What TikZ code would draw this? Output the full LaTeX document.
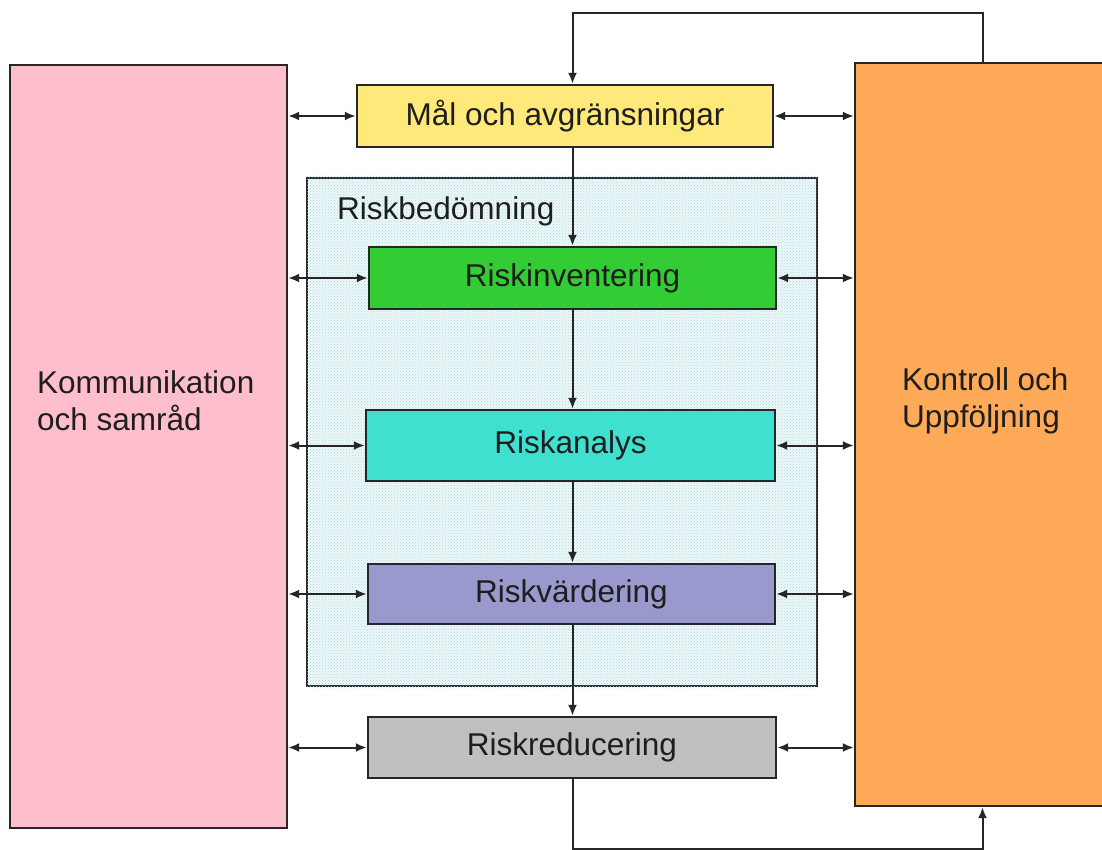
\documentclass[tikz,border=0pt]{standalone}
\usepackage{fontspec}
\setmainfont{Liberation Sans}
\usetikzlibrary{arrows.meta,patterns}
\definecolor{cpink}{RGB}{255,190,204}
\definecolor{corange}{RGB}{255,170,88}
\definecolor{cyellow}{RGB}{255,233,122}
\definecolor{cgreen}{RGB}{52,204,52}
\definecolor{cturq}{RGB}{64,224,208}
\definecolor{cpurple}{RGB}{153,153,206}
\definecolor{cgray}{RGB}{192,192,192}
\definecolor{patbg}{RGB}{238,248,248}
\definecolor{patfg}{RGB}{170,215,225}
\definecolor{txt}{RGB}{30,30,30}
\tikzset{
  box/.style={draw=black!85, line width=2.4pt, inner sep=0pt, text=txt, font=\fontsize{31.5}{37}\selectfont},
  conn/.style={draw=black!85, line width=2pt, -{Latex[length=11pt,width=9pt]}},
  biconn/.style={draw=black!85, line width=2pt, {Latex[length=11pt,width=9pt]}-{Latex[length=11pt,width=9pt]}},
  lbl/.style={text=txt, font=\fontsize{31.5}{37}\selectfont, inner sep=0pt, align=left}
}
\begin{document}
\begin{tikzpicture}[x=1pt,y=-1pt]
\clip (0,0) rectangle (1102,850);
\fill[white] (0,0) rectangle (1102,850);
% side boxes
\node[box, fill=cpink, minimum width=277pt, minimum height=763pt] (pink) at (148.5,446.5) {};
\node[box, fill=corange, minimum width=255pt, minimum height=743pt] (orange) at (982.5,434.5) {};
\node[lbl, anchor=west] (komm) at (37,401) {Kommunikation\\och samråd};
\node[lbl, anchor=west] (kontr) at (902,401) {Kontroll och\\Uppföljning};
% frame
\node[box, fill=patbg, minimum width=510pt, minimum height=508pt] (frame) at (562,432) {};
\path[pattern=crosshatch dots, pattern color=patfg] ([shift={(1.5pt,-1.5pt)}]frame.south west) rectangle ([shift={(-1.5pt,1.5pt)}]frame.north east);
\node[lbl, anchor=west] (rb) at (337,211) {Riskbedömning};
% process boxes
\node[box, fill=cyellow, minimum width=416pt, minimum height=62pt] (mal) at (565,116) {Mål och avgränsningar};
\node[box, fill=cgreen, minimum width=407pt, minimum height=62pt] (inv) at (572.5,278) {Riskinventering};
\node[box, fill=cturq, minimum width=409pt, minimum height=71pt] (ana) at (570.5,445.5) {Riskanalys};
\node[box, fill=cpurple, minimum width=407pt, minimum height=60pt] (var) at (571.5,594) {Riskvärdering};
\node[box, fill=cgray, minimum width=408pt, minimum height=61pt] (red) at (572,747.5) {Riskreducering};
% vertical flow
\draw[conn] (inv.north |- mal.south) -- (inv.north);
\draw[conn] (inv.south) -- (inv.south |- ana.north);
\draw[conn] (inv.south |- ana.south) -- (inv.south |- var.north);
\draw[conn] (inv.south |- var.south) -- (inv.south |- red.north);
% loops
\draw[conn] (orange.north) -- ++(0,-49) -| (inv.north |- mal.north);
\draw[conn] (inv.south |- red.south) -- ++(0,70) -| (orange.south);
% horizontal double arrows
\foreach \n in {mal,inv,ana,var,red}{
  \draw[biconn] (pink.east |- \n.west) -- (\n.west);
  \draw[biconn] (\n.east) -- (orange.west |- \n.east);
}
\end{tikzpicture}
\end{document}
